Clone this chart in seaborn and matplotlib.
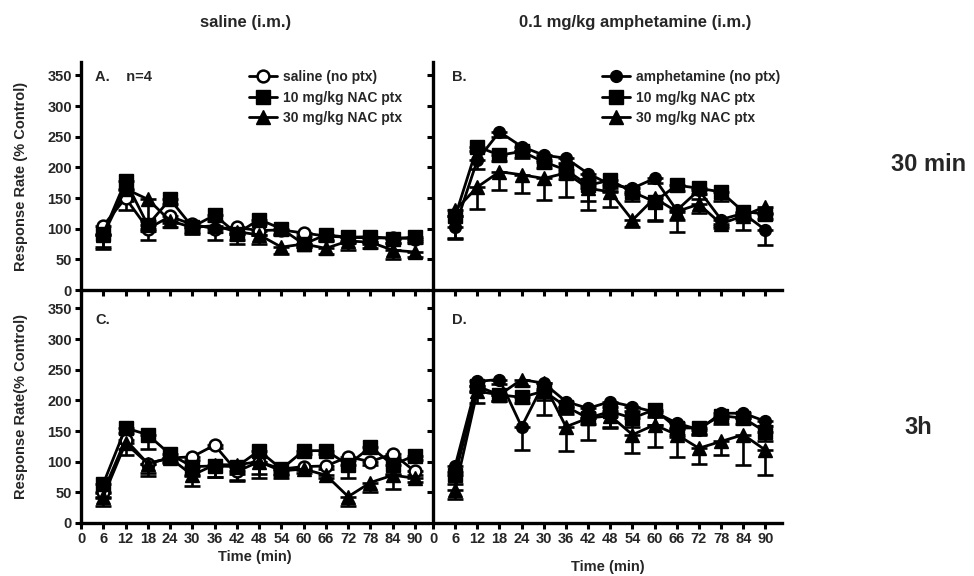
import numpy as np
import pandas as pd
import matplotlib
matplotlib.use("Agg")
import matplotlib.pyplot as plt
import seaborn as sns
from matplotlib.lines import Line2D

sns.set_theme(style="ticks")
plt.rcParams['font.family'] = ['Liberation Sans', 'DejaVu Sans']
plt.rcParams['font.weight'] = 'bold'

time_min = [6, 12, 18, 24, 30, 36, 42, 48, 54, 60, 66, 72, 78, 84, 90]
x_ticks = [0, 6, 12, 18, 24, 30, 36, 42, 48, 54, 60, 66, 72, 78, 84, 90]
y_ticks = [0, 50, 100, 150, 200, 250, 300, 350]

# Panel A: saline, 30 min
a_saline = [105, 150, 100, 120, 107, 100, 102, 97, 98, 93, 88, 86, 85, 85, 84]
a_saline_err = [15, 20, 18, 10, 8, 18, 10, 8, 8, 5, 8, 8, 10, 8, 8]
a_nac10 = [92, 178, 106, 148, 103, 122, 92, 115, 100, 75, 90, 86, 87, 84, 86]
a_nac10_err = [25, 15, 10, 8, 12, 10, 10, 8, 8, 5, 8, 10, 8, 8, 6]
a_nac30 = [90, 165, 148, 113, 102, 105, 95, 90, 70, 75, 68, 80, 78, 65, 62]
a_nac30_err = [20, 20, 35, 10, 8, 10, 20, 15, 12, 5, 10, 15, 10, 15, 8]

# Panel B: amphetamine, 30 min
b_amph = [103, 212, 258, 234, 220, 215, 190, 172, 166, 182, 130, 163, 115, 125, 98]
b_amph_err = [20, 15, 8, 8, 8, 8, 10, 10, 10, 8, 15, 15, 10, 10, 25]
b_nac10 = [120, 234, 220, 226, 209, 196, 171, 179, 160, 144, 171, 166, 160, 128, 124]
b_nac10_err = [35, 8, 10, 10, 10, 15, 25, 12, 15, 30, 10, 10, 15, 10, 8]
b_nac30 = [130, 168, 193, 188, 182, 191, 166, 160, 114, 150, 128, 140, 108, 121, 136]
b_nac30_err = [10, 36, 30, 30, 35, 40, 36, 24, 11, 38, 33, 15, 7, 23, 10]

# Panel C: saline, 3h
c_saline = [51, 136, 97, 106, 108, 127, 84, 100, 88, 92, 93, 108, 100, 113, 84]
c_saline_err = [10, 15, 15, 6, 6, 5, 15, 20, 8, 5, 5, 6, 6, 5, 5]
c_nac10 = [64, 155, 144, 112, 92, 93, 92, 118, 88, 118, 118, 95, 124, 95, 110]
c_nac10_err = [15, 8, 24, 8, 15, 18, 12, 8, 10, 5, 5, 22, 8, 15, 8]
c_nac30 = [43, 130, 97, 106, 78, 95, 95, 100, 85, 88, 78, 43, 66, 78, 73]
c_nac30_err = [15, 19, 20, 8, 18, 20, 25, 27, 12, 6, 5, 16, 15, 23, 6]

# Panel D: amphetamine, 3h
d_amph = [93, 231, 234, 157, 228, 198, 187, 198, 190, 181, 163, 152, 179, 179, 166]
d_amph_err = [10, 8, 8, 38, 10, 8, 8, 8, 8, 8, 10, 8, 8, 8, 8]
d_nac10 = [78, 223, 209, 205, 215, 190, 171, 182, 171, 185, 155, 155, 175, 171, 149]
d_nac10_err = [15, 10, 10, 10, 15, 12, 35, 25, 14, 25, 15, 10, 14, 10, 15]
d_nac30 = [54, 215, 209, 234, 228, 157, 171, 175, 144, 160, 144, 122, 133, 144, 119]
d_nac30_err = [15, 19, 10, 10, 52, 39, 10, 20, 30, 36, 37, 25, 22, 49, 41]

labels_saline = ["saline (no ptx)", "10 mg/kg NAC ptx", "30 mg/kg NAC ptx"]
labels_amph = ["amphetamine (no ptx)", "10 mg/kg NAC ptx", "30 mg/kg NAC ptx"]

W, H = 974, 576
fig = plt.figure(figsize=(W / 100, H / 100), dpi=100)


def px_axes(left, right, top, bottom):
    return fig.add_axes([left / W, 1 - bottom / H, (right - left) / W, (bottom - top) / H])


axA = px_axes(81, 428, 62, 290)
axB = px_axes(433, 782, 62, 290)
axC = px_axes(81, 428, 290, 523)
axD = px_axes(433, 782, 290, 523)

first_styles = {
    'saline': dict(marker='o', mfc='white', mec='black', ms=8.5, mew=1.8),
    'amph': dict(marker='o', mfc='black', mec='black', ms=8.5, mew=1.0),
}
sq_style = dict(marker='s', mfc='black', mec='black', ms=9.5, mew=1.0)
tri_style = dict(marker='^', mfc='black', mec='black', ms=9.5, mew=1.0)
LW = 2.0


def draw_panel(ax, series, first_kind):
    styles = [first_styles[first_kind], sq_style, tri_style]
    for (vals, errs), st in zip(series, styles):
        ax.errorbar(time_min, vals, yerr=[errs, [0] * len(errs)], fmt='none',
                    ecolor='black', elinewidth=1.9, capsize=5.5, capthick=1.9, zorder=2)
    for (vals, errs), st in zip(series, styles):
        df = pd.DataFrame({'t': time_min, 'v': vals})
        sns.lineplot(data=df, x='t', y='v', ax=ax, color='black', lw=LW,
                     zorder=3, legend=False, **st)


draw_panel(axA, [(a_saline, a_saline_err), (a_nac10, a_nac10_err), (a_nac30, a_nac30_err)], 'saline')
draw_panel(axB, [(b_amph, b_amph_err), (b_nac10, b_nac10_err), (b_nac30, b_nac30_err)], 'amph')
draw_panel(axC, [(c_saline, c_saline_err), (c_nac10, c_nac10_err), (c_nac30, c_nac30_err)], 'saline')
draw_panel(axD, [(d_amph, d_amph_err), (d_nac10, d_nac10_err), (d_nac30, d_nac30_err)], 'amph')

for ax, ylim_top, xmax in [(axA, 372, 93.5), (axB, 372, 94.5), (axC, 380, 93.5), (axD, 380, 94.5)]:
    ax.set_xlim(0, xmax)
    ax.set_ylim(0, ylim_top)
    ax.set_xticks(x_ticks)
    ax.set_yticks(y_ticks)
    ax.set_xlabel('')
    ax.set_ylabel('')
    for s in ['top', 'right']:
        ax.spines[s].set_visible(False)
    for s in ['left', 'bottom']:
        ax.spines[s].set_linewidth(2.4)
        ax.spines[s].set_color('black')
    ax.tick_params(axis='both', direction='out', length=4.5, width=2.2, color='black',
                   labelsize=10.5, pad=2)
    for lab in ax.get_xticklabels() + ax.get_yticklabels():
        lab.set_fontweight('bold')
    ax.patch.set_alpha(0)

axA.tick_params(labelbottom=False)
axB.tick_params(labelbottom=False, labelleft=False)
axD.tick_params(labelleft=False)

# Axis labels
axA.set_ylabel("Response Rate (% Control)", fontsize=10.5, fontweight='bold', labelpad=14)
axC.set_ylabel("Response Rate(% Control)", fontsize=10.5, fontweight='bold', labelpad=14)
axC.set_xlabel("Time (min)", fontsize=10.5, fontweight='bold', labelpad=3)
axD.set_xlabel("Time (min)", fontsize=10.5, fontweight='bold', labelpad=10)

# Panel letters
axA.text(0.04, 0.965, "A.    n=4", transform=axA.transAxes, fontsize=10.5, fontweight='bold', va='top')
axB.text(0.055, 0.965, "B.", transform=axB.transAxes, fontsize=10.5, fontweight='bold', va='top')
axC.text(0.04, 0.90, "C.", transform=axC.transAxes, fontsize=10.5, fontweight='bold', va='top')
axD.text(0.055, 0.90, "D.", transform=axD.transAxes, fontsize=10.5, fontweight='bold', va='top')


def make_handles(first_kind):
    sts = [first_styles[first_kind], sq_style, tri_style]
    return [Line2D([0], [0], color='black', lw=LW, **st) for st in sts]


for ax, labs in [(axA, labels_saline), (axB, labels_amph)]:
    ax.legend(make_handles('saline' if ax is axA else 'amph'), labs, loc='upper left',
              bbox_to_anchor=(0.46, 1.0), frameon=False, handlelength=2.0,
              handletextpad=0.45, labelspacing=0.45, borderaxespad=0.2,
              prop=dict(weight='bold', size=10))

# Column titles and row labels
title_font = ['Liberation Sans Narrow', 'Liberation Sans', 'DejaVu Sans']
fig.text(246 / W, 1 - 22 / H, "saline (i.m.)", ha='center', va='center',
         fontsize=12, fontweight='bold', family=title_font)
fig.text(635 / W, 1 - 22 / H, "0.1 mg/kg amphetamine (i.m.)", ha='center', va='center',
         fontsize=12, fontweight='bold', family=title_font)
fig.text(929 / W, 1 - 165 / H, "30 min", ha='center', va='center', fontsize=17, fontweight='bold')
fig.text(918 / W, 1 - 427 / H, "3h", ha='center', va='center', fontsize=17, fontweight='bold')

fig.savefig("out.png", dpi=100, facecolor='white')
